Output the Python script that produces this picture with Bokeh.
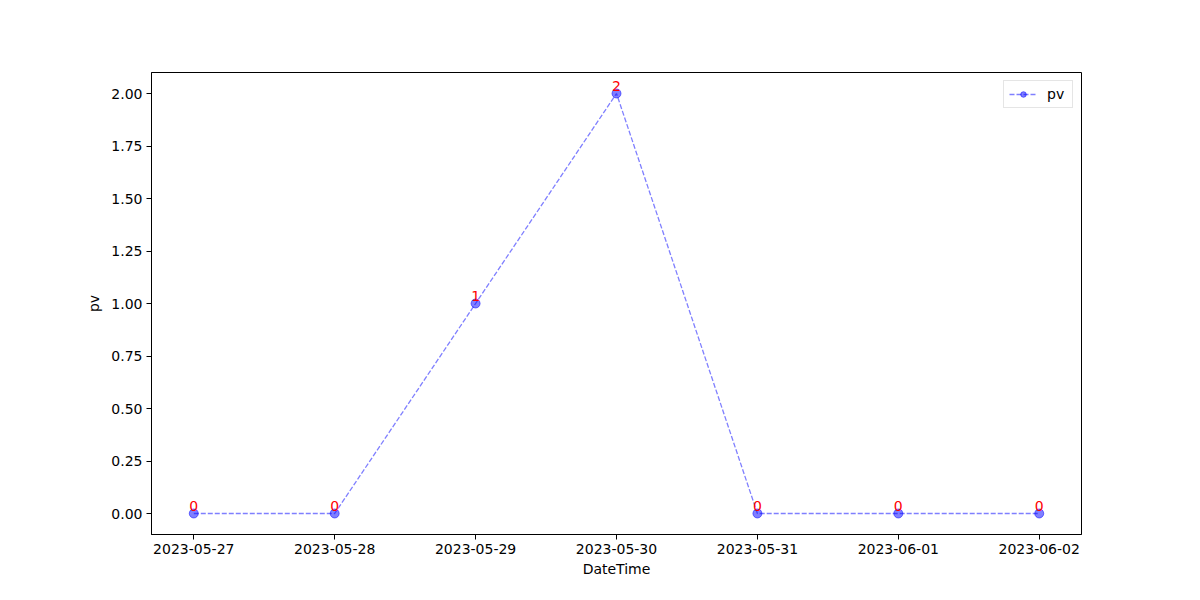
from bokeh.plotting import figure
from bokeh.models import ColumnDataSource, FixedTicker, Range1d, Label, NumeralTickFormatter
from bokeh.embed import file_html
from bokeh.resources import INLINE
from bokeh.core.properties import value

dates = ["2023-05-27", "2023-05-28", "2023-05-29", "2023-05-30",
         "2023-05-31", "2023-06-01", "2023-06-02"]
pv = [0, 0, 1, 2, 0, 0, 0]

xs = list(range(len(dates)))
src = ColumnDataSource(dict(x=xs, y=pv, lbl=[str(v) for v in pv]))

FONT = "DejaVu Sans"

p = figure(width=1184, height=584, output_backend="svg", toolbar_location=None,
           x_range=Range1d(-0.3, len(dates) - 1 + 0.3),
           y_range=Range1d(-0.1, 2.1),
           min_border_left=151, min_border_right=103,
           min_border_top=72, min_border_bottom=50)

p.line("x", "y", source=src, line_color="blue", line_alpha=0.5, line_width=1.3,
       line_dash="5 2", legend_label="pv")
p.scatter("x", "y", source=src, size=9, fill_color="blue", fill_alpha=0.5,
          line_color="blue", line_alpha=0.5, line_width=1, legend_label="pv")
p.text("x", "y", text="lbl", source=src, text_color="red",
       text_align="center", text_baseline="middle",
       text_font=value(FONT), text_font_size="14px", y_offset=-8)

p.grid.visible = False
p.outline_line_color = "black"
p.outline_line_alpha = 1
p.outline_line_width = 1

p.xaxis.ticker = FixedTicker(ticks=xs)
p.xaxis.major_label_overrides = {i: d for i, d in enumerate(dates)}
p.yaxis.ticker = FixedTicker(ticks=[0, 0.25, 0.5, 0.75, 1.0, 1.25, 1.5, 1.75, 2.0])
p.yaxis.formatter = NumeralTickFormatter(format="0.00")

for ax in (p.xaxis[0], p.yaxis[0]):
    ax.minor_tick_line_color = None
    ax.major_tick_in = 0
    ax.major_tick_out = 5
    ax.major_tick_line_color = "black"
    ax.axis_line_color = "black"
    ax.major_label_text_font = FONT
    ax.major_label_text_font_size = "14px"
    ax.major_label_text_color = "black"
    ax.axis_label_text_font = FONT
    ax.axis_label_text_font_size = "14px"
    ax.axis_label_text_font_style = "normal"
    ax.axis_label_text_color = "black"

p.xaxis.axis_label = "DateTime"
p.yaxis.axis_label = "pv"
p.xaxis.major_label_standoff = 4
p.yaxis.major_label_standoff = 4
p.xaxis.axis_label_standoff = 4
p.yaxis.axis_label_standoff = 6

p.legend.location = "top_right"
p.legend.margin = 8
p.legend.border_line_color = "#cccccc"
p.legend.label_text_font = FONT
p.legend.label_text_font_size = "14px"
p.legend.label_text_color = "black"
p.legend.padding = 5
p.legend.spacing = 0
p.legend.glyph_width = 28
p.legend.glyph_height = 14
p.legend.label_standoff = 10
p.legend.background_fill_alpha = 0.8

p.add_layout(Label(x=1000, y=-46, x_units="screen", y_units="screen", text="CSDN-ai",
                   text_font=FONT, text_font_size="6px", text_color="#bbbbbb"))

open("out.html", "w").write(file_html(p, INLINE))
